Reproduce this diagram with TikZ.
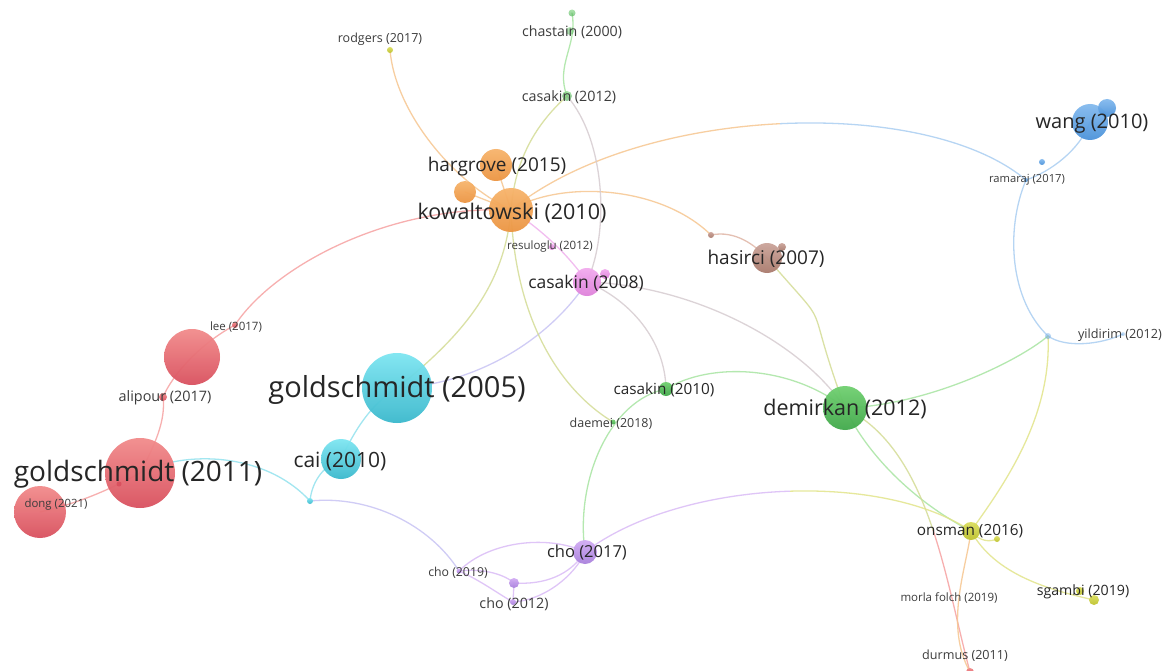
\documentclass[tikz,border=0pt]{standalone}
\usepackage{fontspec}
\setmainfont{Open Sans}
\usetikzlibrary{backgrounds}
% bubble colours (top / bottom of each sphere-like disc)
\definecolor{rT}{HTML}{F28B8B}\definecolor{rB}{HTML}{D9505E}
\definecolor{cT}{HTML}{7EE6F2}\definecolor{cB}{HTML}{3AB8CC}
\definecolor{oT}{HTML}{F7B46C}\definecolor{oB}{HTML}{EC9441}
\definecolor{gT}{HTML}{70D070}\definecolor{gB}{HTML}{40A84A}
\definecolor{pT}{HTML}{F2ABEE}\definecolor{pB}{HTML}{DE80DA}
\definecolor{bT}{HTML}{CBA49A}\definecolor{bB}{HTML}{A97A6C}
\definecolor{uT}{HTML}{84BAEE}\definecolor{uB}{HTML}{4B92DA}
\definecolor{yT}{HTML}{DADE5E}\definecolor{yB}{HTML}{BEC22E}
\definecolor{vT}{HTML}{D2ACF4}\definecolor{vB}{HTML}{A880DC}
% link colours
\definecolor{redL}{HTML}{F6A2A2}
\definecolor{cyanL}{HTML}{92E2EE}
\definecolor{oraL}{HTML}{F6C690}
\definecolor{grnL}{HTML}{A8E4A2}
\definecolor{pinkL}{HTML}{F0B2EE}
\definecolor{purL}{HTML}{DABCF6}
\definecolor{bluL}{HTML}{AACEF2}
\definecolor{yelL}{HTML}{E2E48A}
\definecolor{brnL}{HTML}{E0B6A6}
\definecolor{lavL}{HTML}{C8C4F4}
\definecolor{olvL}{HTML}{D4DC96}
\definecolor{gryL}{HTML}{D6CCD0}
\definecolor{txt}{HTML}{262626}
\definecolor{txs}{HTML}{3C3C3C}
\pgfdeclarelayer{bg}
\pgfdeclarelayer{links}
\pgfsetlayers{bg,links,main}
\begin{document}
\begin{tikzpicture}[x=1pt,y=-1pt,
  ball/.style={circle,inner sep=0pt,minimum size=#1,draw=none,fill opacity=0.95},
  red/.style={top color=rT,bottom color=rB},
  cyan/.style={top color=cT,bottom color=cB},
  orng/.style={top color=oT,bottom color=oB},
  grn/.style={top color=gT,bottom color=gB},
  pnk/.style={top color=pT,bottom color=pB},
  brn/.style={top color=bT,bottom color=bB},
  blu/.style={top color=uT,bottom color=uB},
  yel/.style={top color=yT,bottom color=yB},
  pur/.style={top color=vT,bottom color=vB},
  link/.style={line width=1.3pt,draw=#1,line cap=round,draw opacity=0.85},
  lbl/.style={inner sep=0pt,text=txt,font={\fontsize{#1}{#1}\selectfont}},
  sml/.style={inner sep=0pt,text=txs,font={\fontsize{#1}{#1}\selectfont}}]

\useasboundingbox (0,0) rectangle (1167,671);
\begin{pgfonlayer}{bg}
  \fill[white] (0,0) rectangle (1167,671);
\end{pgfonlayer}

% ---------- bubbles ----------
% red cluster
\node[ball=70,red] (g11) at (140,473) {};
\node[ball=56,red] (rbig) at (192,357) {};
\node[ball=52,red] (dong) at (40,512) {};
\node[ball=6,red] (lee) at (235,325) {};
\node[ball=8,red] (alip) at (163,397) {};
\node[ball=5,fill=rB] (rin) at (119,484) {};
\node[ball=8,red] (durm) at (970,672) {};
% cyan cluster
\node[ball=70,cyan] (g05) at (397,388) {};
\node[ball=40,cyan] (cai) at (341,459) {};
\node[ball=6,cyan] (cdot) at (310,501) {};
% orange cluster
\node[ball=44,orng] (kow) at (511,210) {};
\node[ball=32,orng] (harg) at (496,165) {};
\node[ball=22,orng] (orb) at (465,192) {};
% yellow cluster
\node[ball=6,yel] (rodg) at (390,50) {};
\node[ball=18,yel] (ons) at (971,531) {};
\node[ball=6,yel] (onsd) at (997,539) {};
\node[ball=8,yel] (sg1) at (1080,591) {};
\node[ball=10,yel] (sg2) at (1094,600) {};
% green cluster
\node[ball=7,grn,fill opacity=0.6] (chd) at (572,13) {};
\node[ball=8,grn,fill opacity=0.5] (cha) at (570,31) {};
\node[ball=10,grn,fill opacity=0.6] (cas12) at (567,96) {};
\node[ball=14,grn] (cas10) at (666,389) {};
\node[ball=5,grn] (daem) at (613,422) {};
\node[ball=44,grn] (dem) at (845,408) {};
% pink cluster
\node[ball=28,pnk] (cas08) at (587,282) {};
\node[ball=10,pnk] (cas08b) at (605,274) {};
\node[ball=6,pnk] (resu) at (552,247) {};
% brown cluster
\node[ball=30,brn] (has) at (767,258) {};
\node[ball=8,brn] (hasb) at (782,247) {};
\node[ball=6,brn] (hasd) at (711,235) {};
% blue cluster
\node[ball=36,blu] (wang) at (1090,122) {};
\node[ball=18,blu] (wangb) at (1107,108) {};
\node[ball=4,blu] (ram) at (1026,180) {};
\node[ball=6,blu] (ramd) at (1042,162) {};
\node[ball=6,blu,fill opacity=0.5] (yil) at (1048,336) {};
\node[ball=4,blu,fill opacity=0.4] (yil2) at (1123,334) {};
% purple cluster
\node[ball=24,pur] (cho17) at (585,552) {};
\node[ball=5,pur] (cho19) at (459,571) {};
\node[ball=10,pur] (cho12a) at (514,583) {};
\node[ball=6,pur] (cho12) at (513,602) {};

% ---------- links ----------
\begin{pgfonlayer}{links}
% red
\draw[link=redL] (lee.center) .. controls (275,265) and (390,205) .. (kow.center);
\draw[link=redL] (alip.center) .. controls (172,376) and (198,345) .. (lee.center);
\draw[link=redL] (g11.center) .. controls (155,445) and (166,420) .. (alip.center);
\draw[link=redL] (g11.center) .. controls (100,495) and (70,505) .. (dong.center);
% cyan
\draw[link=cyanL] (g11.center) .. controls (185,450) and (265,452) .. (cdot.center);
\draw[link=cyanL] (cdot.center) .. controls (312,480) and (325,465) .. (cai.center);
\draw[link=cyanL] (cai.center) .. controls (355,430) and (370,405) .. (g05.center);
\draw[link=lavL] (cdot.center) .. controls (370,495) and (430,525) .. (cho19.center);
\draw[link=olvL] (g05.center) .. controls (470,330) and (505,280) .. (kow.center);
\draw[link=lavL] (g05.center) .. controls (470,385) and (545,345) .. (cas08.center);
% orange
\draw[link=olvL] (kow.center) .. controls (515,320) and (560,390) .. (daem.center);
\draw[link=pinkL] (kow.center) .. controls (535,225) and (565,250) .. (cas08.center);
\draw[link=oraL] (kow.center) .. controls (560,180) and (660,185) .. (hasd.center);
\draw[link=brnL] (hasd.center) .. controls (735,230) and (755,245) .. (has.center);
\begin{scope}
  \clip (0,0) rectangle (780,671);
  \draw[link=oraL] (kow.center) .. controls (640,105) and (925,95) .. (ram.center);
\end{scope}
\begin{scope}
  \clip (780,0) rectangle (1167,671);
  \draw[link=bluL] (kow.center) .. controls (640,105) and (925,95) .. (ram.center);
\end{scope}
\draw[link=oraL] (rodg.center) .. controls (395,110) and (450,180) .. (kow.center);
\draw[link=oraL] (harg.center) -- (kow.center);
\draw[link=oraL] (orb.center) -- (kow.center);
% blue
\draw[link=bluL] (ram.center) .. controls (1050,172) and (1080,150) .. (wang.center);
\draw[link=bluL] (ram.center) .. controls (1005,230) and (1010,300) .. (yil.center);
\draw[link=bluL] (yil.center) .. controls (1065,348) and (1100,345) .. (yil2.center);
\draw[link=grnL] (yil.center) .. controls (1020,360) and (930,405) .. (dem.center);
\draw[link=yelL] (yil.center) .. controls (1052,420) and (1000,490) .. (ons.center);
% green
\draw[link=olvL] (dem.center) .. controls (800,285) and (838,340) .. (has.center);
\draw[link=gryL] (cas08.center) .. controls (690,285) and (800,340) .. (dem.center);
\draw[link=gryL] (cas08.center) .. controls (630,300) and (665,340) .. (cas10.center);
\draw[link=grnL] (cas10.center) .. controls (710,362) and (790,365) .. (dem.center);
\draw[link=grnL] (cas10.center) .. controls (610,400) and (575,480) .. (cho17.center);
\draw[link=grnL] (dem.center) .. controls (870,460) and (920,505) .. (ons.center);
\begin{scope}
  \clip (0,0) rectangle (1167,530);
  \draw[link=olvL] (dem.center) .. controls (930,450) and (945,580) .. (durm.center);
\end{scope}
\begin{scope}
  \clip (0,530) rectangle (1167,671);
  \draw[link=redL] (dem.center) .. controls (930,450) and (945,580) .. (durm.center);
\end{scope}
\draw[link=gryL] (cas12.center) .. controls (605,140) and (610,230) .. (cas08.center);
\draw[link=olvL] (cas12.center) .. controls (535,125) and (515,160) .. (kow.center);
\draw[link=grnL] (chd.center) .. controls (578,45) and (555,65) .. (cas12.center);
% yellow
\draw[link=oraL] (ons.center) .. controls (966,570) and (944,625) .. (durm.center);
\draw[link=yelL] (ons.center) .. controls (995,575) and (1050,590) .. (sg2.center);
\draw[link=yelL] (ons.center) .. controls (980,542) and (990,542) .. (onsd.center);
\begin{scope}
  \clip (0,0) rectangle (790,671);
  \draw[link=purL] (cho17.center) .. controls (680,480) and (880,470) .. (ons.center);
\end{scope}
\begin{scope}
  \clip (790,0) rectangle (1167,671);
  \draw[link=yelL] (cho17.center) .. controls (680,480) and (880,470) .. (ons.center);
\end{scope}
% purple
\draw[link=purL] (cho17.center) .. controls (550,535) and (490,540) .. (cho19.center);
\draw[link=purL] (cho19.center) .. controls (485,568) and (505,575) .. (cho12a.center);
\draw[link=purL] (cho19.center) .. controls (480,580) and (500,595) .. (cho12.center);
\draw[link=purL] (cho12a.center) .. controls (545,585) and (570,575) .. (cho17.center);
\draw[link=purL] (cho12.center) .. controls (545,600) and (575,575) .. (cho17.center);
\draw[link=purL] (cho12a.center) -- (cho12.center);
\end{pgfonlayer}

% ---------- labels ----------
\node[lbl=29] (t-g05) at (397,390) {goldschmidt (2005)};
\node[lbl=28] (t-g11) at (138,474) {goldschmidt (2011)};
\node[lbl=21.5] (t-kow) at (512,213) {kowaltowski (2010)};
\node[lbl=19] (t-harg) at (497,167) {hargrove (2015)};
\node[lbl=21.5] (t-dem) at (845,409) {demirkan (2012)};
\node[lbl=19] (t-has) at (766,259) {hasirci (2007)};
\node[lbl=17.5] (t-cas08) at (586,283) {casakin (2008)};
\node[lbl=21] (t-cai) at (340,461) {cai (2010)};
\node[lbl=20] (t-wang) at (1092,124) {wang (2010)};
\node[lbl=16.5] (t-cho17) at (587,553) {cho (2017)};
\node[lbl=15.3] (t-ons) at (970,531) {onsman (2016)};
\node[lbl=14.2] (t-sg) at (1083,592) {sgambi (2019)};
\node[lbl=15.3] (t-cas10) at (664,390) {casakin (2010)};
\node[sml=14.3] (t-cas12) at (569,97) {casakin (2012)};
\node[sml=14.2] (t-cha) at (572,32) {chastain (2000)};
\node[sml=12.5] (t-rodg) at (380,39) {rodgers (2017)};
\node[sml=14.4] (t-alip) at (165,398) {alipour (2017)};
\node[sml=11.5] (t-lee) at (236,327) {lee (2017)};
\node[sml=11.4] (t-dong) at (56,505) {dong (2021)};
\node[sml=11.5] (t-resu) at (550,247) {resuloglu (2012)};
\node[sml=12.5] (t-daem) at (611,424) {daemei (2018)};
\node[sml=12.3] (t-cho19) at (458,573) {cho (2019)};
\node[sml=14.3] (t-cho12) at (514,604) {cho (2012)};
\node[sml=11.2] (t-ram) at (1027,180) {ramaraj (2017)};
\node[sml=12.7] (t-yil) at (1120,335) {yildirim (2012)};
\node[sml=11.5] (t-morla) at (949,598) {morla folch (2019)};
\node[sml=12.6] (t-durm) at (965,656) {durmus (2011)};
\end{tikzpicture}
\end{document}
